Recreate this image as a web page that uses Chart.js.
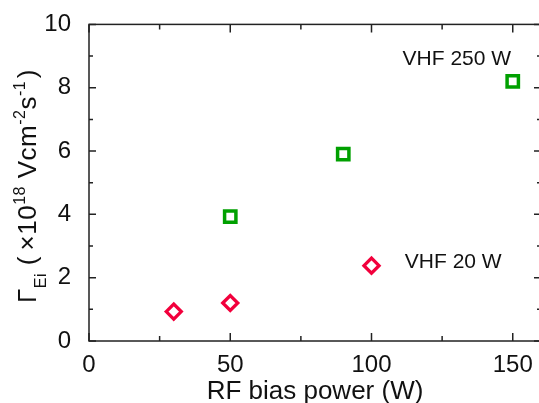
<!DOCTYPE html>
<html>
<head>
<meta charset="utf-8">
<script src="https://cdn.jsdelivr.net/npm/chart.js@4/dist/chart.umd.min.js"></script>
<style>
  html, body { margin: 0; padding: 0; background: #fff; overflow: hidden; }
  #wrap { width: 539px; height: 403px; overflow: hidden; }
  #wrap canvas { display: block; }
</style>
</head>
<body>
<div id="wrap"><canvas id="chart" width="545" height="403" style="width:545px;height:403px"></canvas></div>
<script>
// ------------------------------------------------------------
// data
// ------------------------------------------------------------
const vhf250Power = [50, 90, 150];
const vhf250Flux  = [3.93, 5.9, 8.2];

const vhf20Power  = [30, 50, 100];
const vhf20Flux   = [0.93, 1.2, 2.38];

const xMajorTicks = [0, 50, 100, 150];
const xMinorTicks = [25, 75, 125];
const yMajorTicks = [0, 2, 4, 6, 8, 10];
const yMinorTicks = [1, 3, 5, 7, 9];

const seriesLabels = ['VHF 250 W', 'VHF 20 W'];
const labelAnchors = [[111, 8.72], [111.8, 2.3]];   // data coords of the in-plot text

const GREEN = '#00a000';
const RED   = '#f2003c';
const AXIS  = '#222222';
const FONT  = '"Liberation Sans", Arial, sans-serif';

function toPoints(xs, ys) {
  return xs.map((x, i) => ({ x, y: ys[i] }));
}

// inward ticks, frame, x tick labels, axis titles and in-plot labels
const framePlugin = {
  id: 'frame',
  afterDraw(chart) {
    const { ctx, chartArea: a, scales: { x, y } } = chart;
    ctx.save();
    ctx.strokeStyle = AXIS;
    ctx.lineWidth = 1.5;
    ctx.strokeRect(a.left, a.top, a.right - a.left, a.bottom - a.top);

    ctx.beginPath();
    const tick = (x0, y0, x1, y1) => { ctx.moveTo(x0, y0); ctx.lineTo(x1, y1); };
    xMajorTicks.forEach(v => {
      const px = x.getPixelForValue(v);
      tick(px, a.bottom, px, a.bottom - 8);
      tick(px, a.top, px, a.top + 8);
    });
    xMinorTicks.forEach(v => {
      const px = x.getPixelForValue(v);
      tick(px, a.bottom, px, a.bottom - 5);
      tick(px, a.top, px, a.top + 5);
    });
    yMajorTicks.forEach(v => {
      const py = y.getPixelForValue(v);
      tick(a.left, py, a.left + 7, py);
      tick(a.right, py, a.right - 7, py);
    });
    yMinorTicks.forEach(v => {
      const py = y.getPixelForValue(v);
      tick(a.left, py, a.left + 4, py);
      tick(a.right, py, a.right - 4, py);
    });
    ctx.stroke();

    ctx.fillStyle = '#111';

    // x tick labels
    ctx.font = '24px ' + FONT;
    ctx.textAlign = 'center';
    ctx.textBaseline = 'alphabetic';
    xMajorTicks.forEach(v => ctx.fillText(String(v), x.getPixelForValue(v), a.bottom + 31));

    // in-plot series labels
    ctx.font = '21px ' + FONT;
    ctx.textAlign = 'left';
    seriesLabels.forEach((t, i) => {
      ctx.fillText(t, x.getPixelForValue(labelAnchors[i][0]), y.getPixelForValue(labelAnchors[i][1]));
    });

    // x title
    ctx.font = '26px ' + FONT;
    ctx.textAlign = 'center';
    ctx.fillText('RF bias power (W)', (a.left + a.right) / 2, 399);

    // y title with sub/superscripts, rotated
    const parts = [
      ['Γ', 0], ['Ei', 1], [' (\u2009×10', 0], ['18', -1], [' Vcm', 0],
      ['-2', -1], ['s', 0], ['-1', -1], ['\u200a)', 0],
    ];
    const big = '26px ' + FONT, small = '16px ' + FONT;
    ctx.letterSpacing = '0.5px';
    let total = 0;
    parts.forEach(p => { ctx.font = p[1] ? small : big; total += ctx.measureText(p[0]).width; });
    ctx.translate(36, 186);
    ctx.rotate(-Math.PI / 2);
    ctx.textAlign = 'left';
    let cx = -total / 2;
    parts.forEach(([t, lvl]) => {
      ctx.font = lvl ? small : big;
      ctx.fillText(t, cx, lvl === 1 ? 10 : lvl === -1 ? -11 : 0);
      cx += ctx.measureText(t).width;
    });
    ctx.restore();
  }
};

new Chart(document.getElementById('chart'), {
  type: 'scatter',
  data: {
    datasets: [
      {
        label: seriesLabels[0],
        data: toPoints(vhf250Power, vhf250Flux),
        pointStyle: 'rect',
        pointRadius: 8,
        pointHoverRadius: 8,
        borderWidth: 3.5,
        pointBorderColor: GREEN,
        pointBackgroundColor: '#fff',
      },
      {
        label: seriesLabels[1],
        data: toPoints(vhf20Power, vhf20Flux),
        pointStyle: 'rectRot',
        pointRadius: 7.5,
        pointHoverRadius: 7.5,
        borderWidth: 3.3,
        pointBorderColor: RED,
        pointBackgroundColor: '#fff',
      }
    ]
  },
  options: {
    responsive: false,
    animation: false,
    layout: { autoPadding: false, padding: { left: 0, top: 23, right: 4, bottom: 0 } },
    plugins: { legend: { display: false }, tooltip: { enabled: false } },
    scales: {
      x: {
        type: 'linear',
        min: 0, max: 160,
        grid: { display: false },
        border: { display: false },
        ticks: { display: false },
        afterFit: s => { s.height = 62; },
      },
      y: {
        min: 0, max: 10,
        grid: { display: false },
        border: { display: false },
        afterBuildTicks: s => { s.ticks = yMajorTicks.map(v => ({ value: v })); },
        afterFit: s => { s.width = 89; },
        ticks: { padding: 10, color: '#111', font: { size: 24, family: FONT } }
      }
    }
  },
  plugins: [framePlugin]
});
</script>
</body>
</html>
